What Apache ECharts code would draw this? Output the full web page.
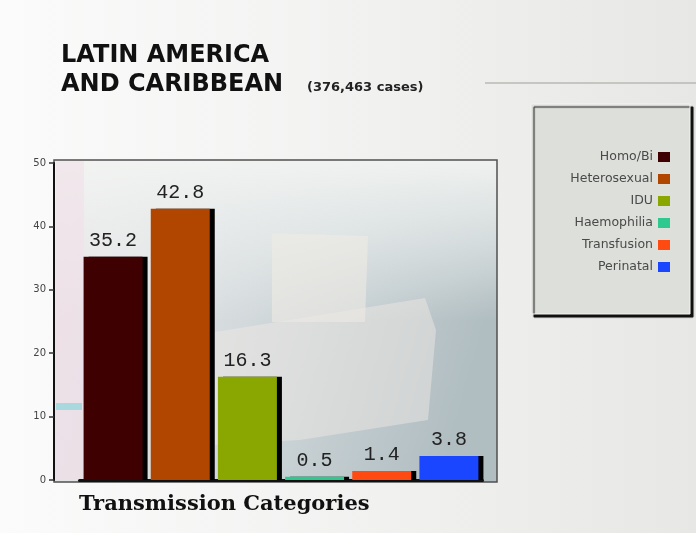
<!DOCTYPE html>
<html>
<head>
<meta charset="utf-8">
<title>Latin America and Caribbean – Transmission Categories</title>
<script src="https://cdn.jsdelivr.net/npm/echarts@6/dist/echarts.min.js"></script>
<style>
  html, body { margin: 0; padding: 0; background: #f2f2f2; }
  #chart { width: 696px; height: 533px; }
</style>
</head>
<body>
<div id="chart"></div>
<script>
// Share of reported AIDS cases by transmission category (%)
const categories = ['Homo/Bi', 'Heterosexual', 'IDU', 'Haemophilia', 'Transfusion', 'Perinatal'];
const values = [35.2, 42.8, 16.3, 0.5, 1.4, 3.8];
const colors = ['#3e0000', '#b04600', '#8aa600', '#2ec98f', '#ff4a12', '#1a46ff'];
const yTicks = [0, 10, 20, 30, 40, 50];

const chart = echarts.init(document.getElementById('chart'), null, { renderer: 'canvas' });

// one series per category so each gets its own legend entry; overlapping gaps keep bars centred
const series = categories.map((name, i) => ({
  name: name,
  type: 'bar',
  barWidth: 59,
  barGap: '-100%',
  z: 5,
  itemStyle: {
    color: colors[i],
    shadowColor: '#000',
    shadowOffsetX: 5,
    shadowOffsetY: 0,
    shadowBlur: 0
  },
  label: {
    show: true,
    position: 'top',
    distance: 6,
    color: '#222',
    fontFamily: 'Liberation Mono',
    fontSize: 20,
    formatter: p => p.value.toFixed(1)
  },
  data: categories.map((c, j) => (j === i ? values[i] : null))
}));

const option = {
  backgroundColor: {
    type: 'linear', x: 0, y: 0, x2: 1, y2: 0,
    colorStops: [
      { offset: 0, color: '#fbfbfb' },
      { offset: 0.6, color: '#f0f0ef' },
      { offset: 1, color: '#e7e7e5' }
    ]
  },
  animation: false,
  title: [
    {
      text: 'LATIN AMERICA\nAND CARIBBEAN',
      left: 56, top: 36,
      textStyle: { fontFamily: 'DejaVu Sans', fontWeight: 'bold', fontSize: 24, lineHeight: 29, color: '#111' }
    },
    {
      text: '(376,463 cases)',
      left: 302, top: 76,
      textStyle: { fontFamily: 'DejaVu Sans', fontWeight: 'bold', fontSize: 13, color: '#222' }
    },
    {
      text: 'Transmission Categories',
      left: 74, top: 489,
      textStyle: { fontFamily: 'DejaVu Serif', fontWeight: 'bold', fontSize: 21, color: '#111' }
    }
  ],
  graphic: [
    // rule beside the title
    { type: 'line', shape: { x1: 485, y1: 83, x2: 696, y2: 83 }, style: { stroke: '#b8b8b6', lineWidth: 1.5 }, z: 0 },
    // plot panel backdrop: pinkish white on the left fading to blue-grey on the right
    {
      type: 'rect', z: -10,
      shape: { x: 54, y: 160, width: 443, height: 322 },
      style: {
        fill: {
          type: 'linear', x: 0, y: 0, x2: 1, y2: 0.4,
          colorStops: [
            { offset: 0, color: '#efe6ea' },
            { offset: 0.3, color: '#dfe2e4' },
            { offset: 0.65, color: '#c9d2d5' },
            { offset: 1, color: '#b0bdc1' }
          ]
        }
      }
    },
    // haze across the top of the panel
    {
      type: 'rect', z: -9,
      shape: { x: 54, y: 160, width: 443, height: 322 },
      style: {
        fill: {
          type: 'linear', x: 0, y: 0, x2: 0, y2: 1,
          colorStops: [
            { offset: 0, color: 'rgba(242,244,242,0.95)' },
            { offset: 0.25, color: 'rgba(236,239,238,0.6)' },
            { offset: 0.5, color: 'rgba(236,239,238,0)' },
            { offset: 1, color: 'rgba(236,239,238,0)' }
          ]
        }
      }
    },
    // cream paper patches
    { type: 'polygon', z: -8, shape: { points: [[272, 233], [368, 236], [365, 322], [272, 322]] }, style: { fill: 'rgba(238,235,228,0.6)' } },
    { type: 'polygon', z: -8, shape: { points: [[215, 332], [425, 298], [436, 330], [428, 420], [300, 440], [215, 445]] }, style: { fill: 'rgba(238,232,228,0.5)' } },
    { type: 'rect', z: -8, shape: { x: 56, y: 160, width: 28, height: 320 }, style: { fill: 'rgba(240,222,232,0.55)' } },
    { type: 'rect', z: -8, shape: { x: 56, y: 403, width: 26, height: 7 }, style: { fill: 'rgba(150,215,220,0.8)' } },
    // panel frame
    {
      type: 'rect', z: -7,
      shape: { x: 54, y: 160, width: 443, height: 322 },
      style: { fill: 'none', stroke: '#505050', lineWidth: 1.5 }
    },
    // legend box with drop shadow
    {
      type: 'rect', z: -5,
      shape: { x: 531, y: 104, width: 159, height: 210 },
      style: {
        fill: '#dcdfda', stroke: '#f4f4f2', lineWidth: 1,
        shadowColor: '#111', shadowOffsetX: 3, shadowOffsetY: 3, shadowBlur: 1
      }
    }
  ],
  legend: {
    data: categories,
    orient: 'vertical',
    align: 'right',
    right: 21,
    top: 145,
    itemWidth: 12,
    itemHeight: 10,
    itemGap: 8,
    icon: 'rect',
    textStyle: { fontFamily: 'DejaVu Sans', fontSize: 12.5, color: '#4a4a4a', lineHeight: 14 }
  },
  grid: { left: 79.5, width: 403, top: 163, bottom: 53, containLabel: false },
  xAxis: {
    type: 'category',
    data: categories,
    axisLine: { lineStyle: { color: '#111', width: 3 } },
    axisTick: { show: false },
    axisLabel: { show: false },
    splitLine: { show: false }
  },
  yAxis: {
    type: 'value',
    min: 0, max: 50, interval: 10,
    offset: 25.5,
    axisLine: { show: true, lineStyle: { color: '#111', width: 2 } },
    axisTick: { show: true, length: 5, lineStyle: { color: '#333', width: 1.5 } },
    axisLabel: {
      color: '#444', fontFamily: 'DejaVu Sans', fontSize: 10, margin: 8,
      formatter: v => (yTicks.includes(v) ? String(v) : '')
    },
    splitLine: { show: false }
  },
  series: series
};

chart.setOption(option);
</script>
</body>
</html>
